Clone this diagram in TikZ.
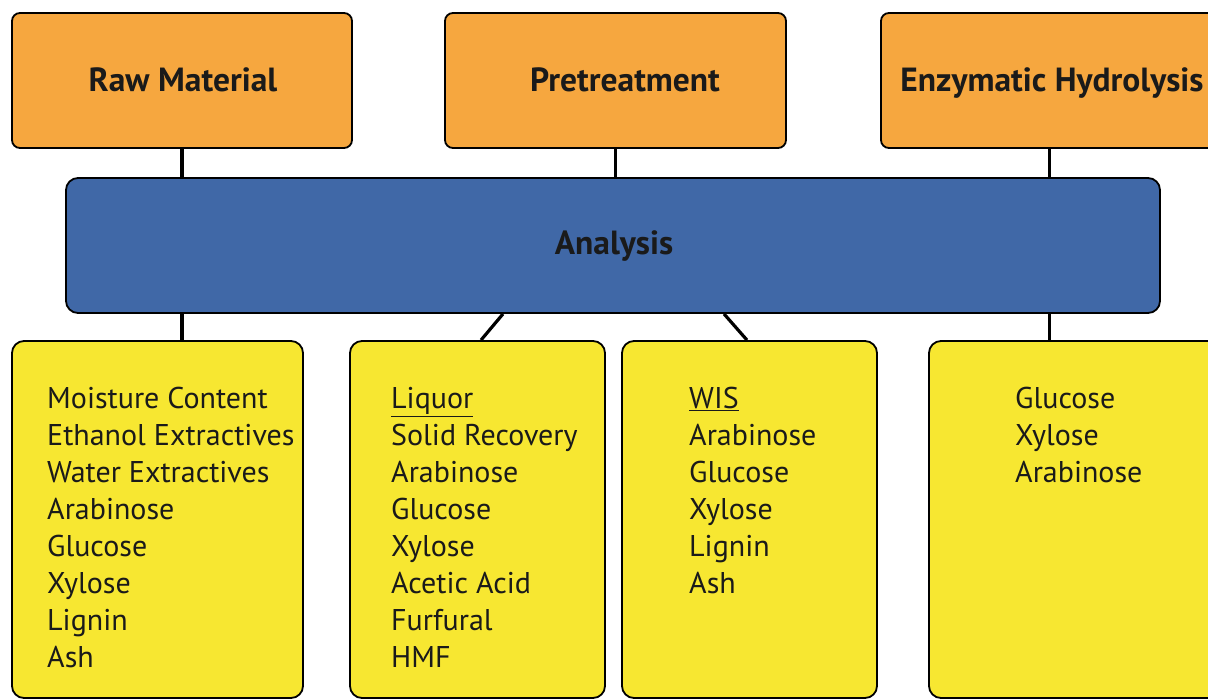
\documentclass[tikz,border=0pt]{standalone}
\usepackage{fontspec}
\setmainfont{PT Sans}
\usetikzlibrary{calc}
\definecolor{orng}{HTML}{F6A73F}
\definecolor{blu}{HTML}{4068A7}
\definecolor{yel}{HTML}{F7E731}
\definecolor{ink}{HTML}{1A1A1A}
\tikzset{
  boxbase/.style={draw=black, line width=1.8pt, inner sep=0pt},
  headbox/.style={boxbase, fill=orng, rounded corners=8pt, minimum height=135pt},
  anabox/.style={boxbase, fill=blu, rounded corners=12pt, minimum height=135pt},
  listbox/.style={boxbase, fill=yel, rounded corners=12pt, minimum height=357pt},
  headtxt/.style={inner sep=0pt, anchor=base, text=ink, font=\bfseries\fontsize{33.5}{40}\selectfont},
  listtxt/.style={inner sep=0pt, text=ink, anchor=north west, align=left, font=\fontsize{30}{37}\selectfont},
  conn/.style={draw=black, line width=3.2pt}
}
\begin{document}
\begin{tikzpicture}[x=1pt,y=-1pt]
\useasboundingbox (0,0) rectangle (1208,699);
\clip (0,0) rectangle (1208,699);
\fill[white] (0,0) rectangle (1208,699);
% top row
\node[headbox, minimum width=340pt] (raw) at (182,80.5) {};
\node[headbox, minimum width=341pt] (pre) at (615.5,80.5) {};
\node[headbox, minimum width=337pt] (enz) at (1049.5,80.5) {};
\node[headtxt] (rawt) at (183,91) {Raw Material};
\node[headtxt] (pret) at (625,91) {Pretreatment};
\node[headtxt] (enzt) at (1052,91) {Enzymatic Hydrolysis};
% analysis
\node[anabox, minimum width=1094pt] (ana) at (613,245.5) {};
\node[headtxt] (anat) at (614,254) {Analysis};
% bottom row
\node[listbox, minimum width=291pt] (r1) at (157.5,519.5) {};
\node[listbox, minimum width=255pt] (r2) at (477.5,519.5) {};
\node[listbox, minimum width=255pt] (r3) at (749.5,519.5) {};
\node[listbox, minimum width=301pt] (r4) at (1079.5,519.5) {};
\node[listtxt] (l1) at (47,387) {Moisture Content\\Ethanol Extractives\\Water Extractives\\Arabinose\\Glucose\\Xylose\\Lignin\\Ash};
\node[listtxt] (l2) at (391,387) {\underline{Liquor}\\Solid Recovery\\Arabinose\\Glucose\\Xylose\\Acetic Acid\\Furfural\\HMF};
\node[listtxt] (l3) at (689,387) {\underline{WIS}\\Arabinose\\Glucose\\Xylose\\Lignin\\Ash};
\node[listtxt] (l4) at (1015,387) {Glucose\\Xylose\\Arabinose};
% connectors
\draw[conn] (raw.south) -- (raw.south |- ana.north);
\draw[conn] (pre.south) -- (pre.south |- ana.north);
\draw[conn] (enz.south) -- (enz.south |- ana.north);
\draw[conn] (ana.south -| raw.south) -- (r1.north -| raw.south);
\draw[conn] ($(ana.south -| r2.north)+(25.5,0)$) -- ($(r2.north)+(3.5,0)$);
\draw[conn] ($(ana.south -| r3.north)+(-25.5,0)$) -- ($(r3.north)+(-2.5,0)$);
\draw[conn] (ana.south -| enz.south) -- (r4.north -| enz.south);
\end{tikzpicture}
\end{document}
